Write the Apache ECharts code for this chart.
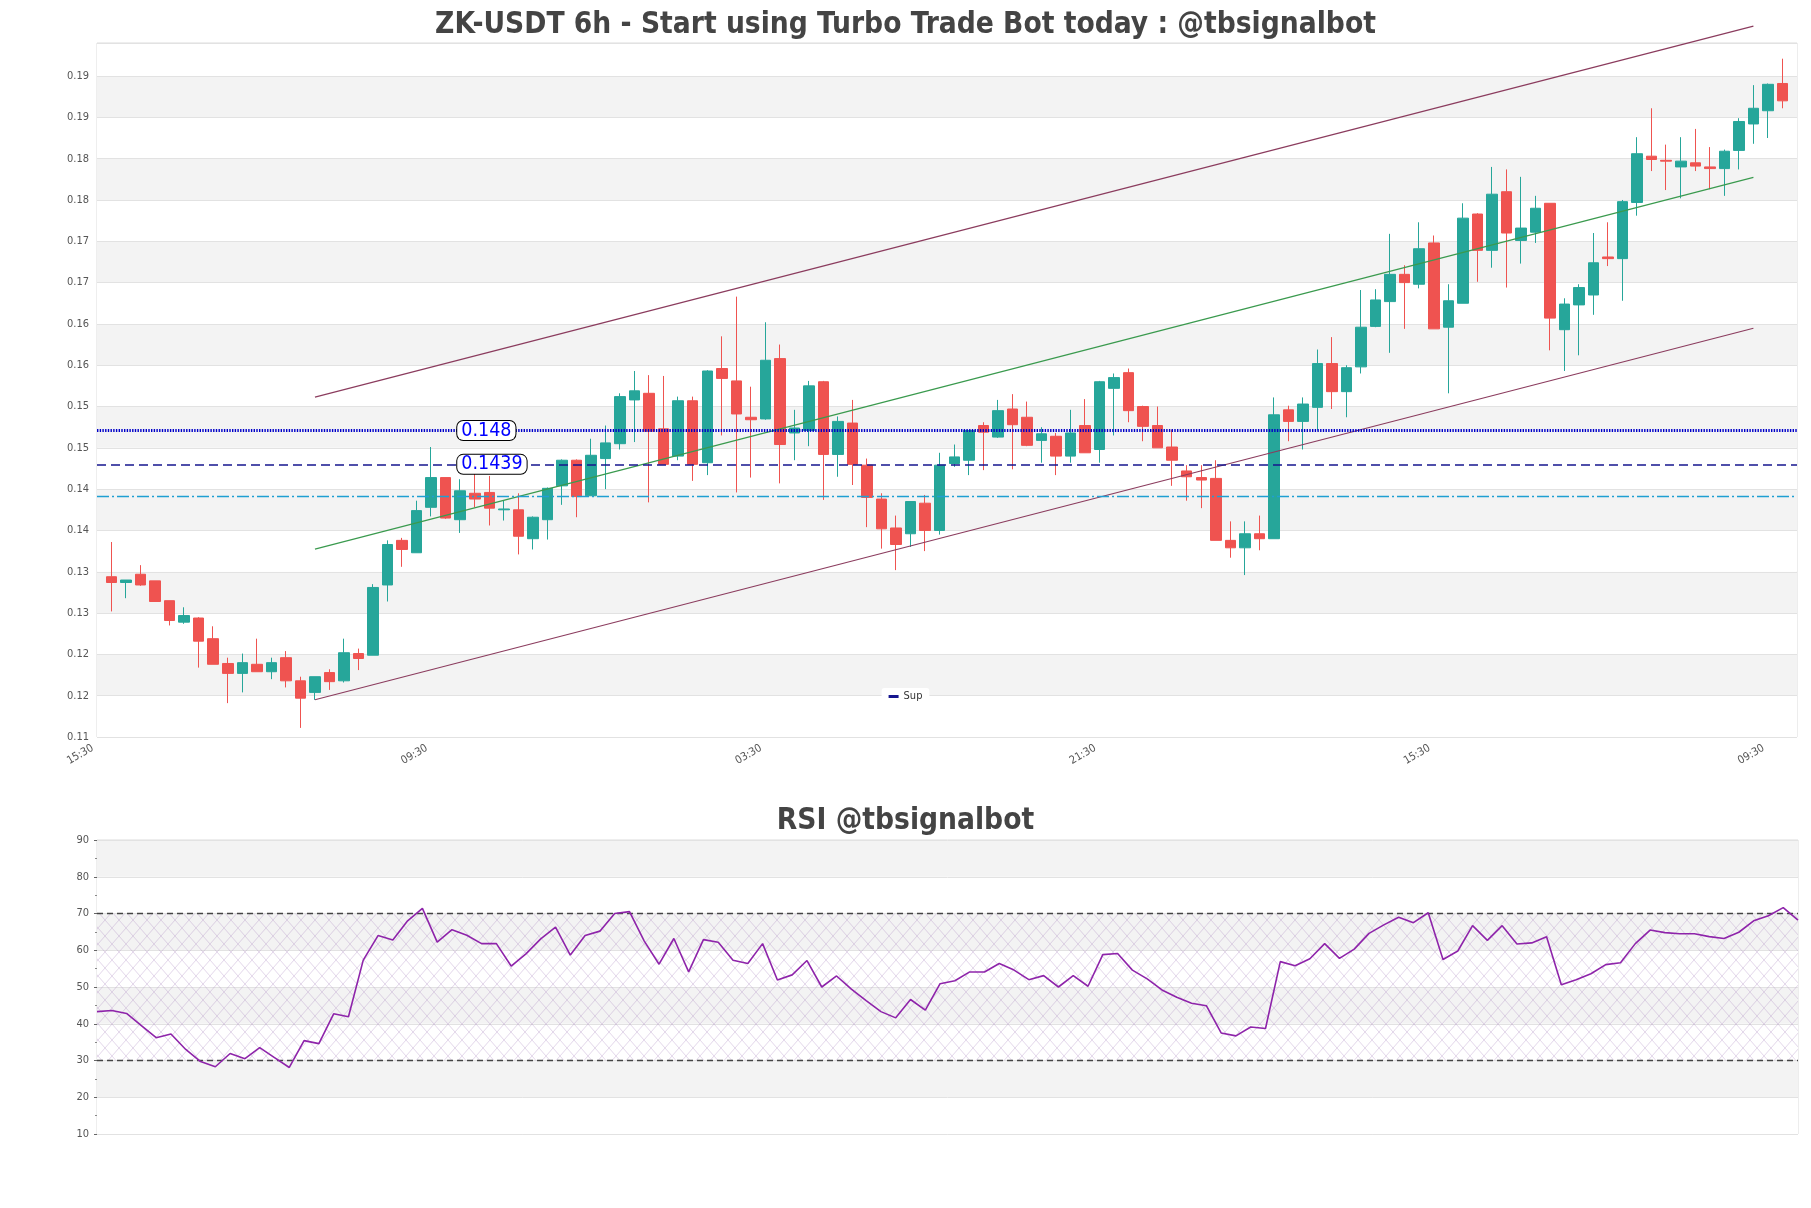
<!DOCTYPE html>
<html>
<head>
<meta charset="utf-8">
<script src="https://cdn.jsdelivr.net/npm/echarts@6/dist/echarts.min.js"></script>
<style>html,body{margin:0;padding:0;background:#fff}#c{width:1811px;height:1208px}</style>
</head>
<body>
<div id="c"></div>
<script>
// ---------- data ----------
const timeCycle = ['15:30', '21:30', '03:30', '09:30'];
const opens  = [0.1303,0.1296,0.1306,0.1298,0.1274,0.1248,0.1253,0.1228,0.1198,0.1186,0.1197,0.1188,0.1205,0.1177,0.1163,0.1187,0.1177,0.1210,0.1208,0.1293,
                0.1347,0.1332,0.1387,0.1423,0.1372,0.1404,0.1405,0.1384,0.1384,0.1349,0.1372,0.1413,0.1444,0.1401,0.1446,0.1464,0.1517,0.1525,0.1482,0.1449,
                0.1516,0.1441,0.1555,0.1540,0.1496,0.1494,0.1567,0.1477,0.1480,0.1539,0.1451,0.1489,0.1438,0.1397,0.1362,0.1355,0.1392,0.1359,0.1440,0.1444,
                0.1486,0.1472,0.1506,0.1496,0.1468,0.1473,0.1449,0.1486,0.1457,0.1531,0.1550,0.1509,0.1486,0.1460,0.1431,0.1423,0.1422,0.1347,0.1338,0.1355,
                0.1349,0.1505,0.1491,0.1508,0.1561,0.1527,0.1557,0.1606,0.1636,0.1669,0.1657,0.1707,0.1605,0.1634,0.1742,0.1698,0.1769,0.1710,0.1720,0.1755,
                0.1602,0.1632,0.1644,0.1690,0.1688,0.1756,0.1812,0.1807,0.1799,0.1804,0.1799,0.1797,0.1819,0.1851,0.1867,0.1900];
const closes = [0.1296,0.1299,0.1293,0.1273,0.1250,0.1256,0.1225,0.1197,0.1186,0.1199,0.1188,0.1199,0.1177,0.1156,0.1182,0.1176,0.1211,0.1204,0.1290,0.1342,
                0.1336,0.1383,0.1423,0.1374,0.1407,0.1397,0.1386,0.1385,0.1352,0.1375,0.1410,0.1444,0.1400,0.1450,0.1465,0.1521,0.1528,0.1479,0.1439,0.1516,
                0.1439,0.1552,0.1543,0.1500,0.1493,0.1565,0.1463,0.1483,0.1534,0.1451,0.1491,0.1439,0.1399,0.1361,0.1342,0.1394,0.1359,0.1438,0.1448,0.1480,
                0.1478,0.1504,0.1487,0.1462,0.1476,0.1449,0.1477,0.1453,0.1539,0.1544,0.1504,0.1485,0.1459,0.1444,0.1424,0.1420,0.1347,0.1338,0.1355,0.1349,
                0.1499,0.1491,0.1512,0.1561,0.1527,0.1556,0.1605,0.1638,0.1669,0.1659,0.1700,0.1603,0.1637,0.1737,0.1698,0.1766,0.1719,0.1725,0.1749,0.1616,
                0.1633,0.1653,0.1683,0.1688,0.1757,0.1815,0.1808,0.1806,0.1806,0.1800,0.1797,0.1818,0.1854,0.1870,0.1899,0.1879];
const lows   = [0.1261,0.1277,0.1292,0.1273,0.1244,0.1246,0.1193,0.1197,0.1150,0.1163,0.1188,0.1179,0.1169,0.1120,0.1154,0.1166,0.1175,0.1190,0.1208,0.1273,
                0.1315,0.1332,0.1376,0.1373,0.1356,0.1387,0.1365,0.1371,0.1330,0.1336,0.1348,0.1390,0.1375,0.1401,0.1409,0.1457,0.1466,0.1393,0.1439,0.1444,
                0.1419,0.1426,0.1474,0.1405,0.1423,0.1493,0.1416,0.1444,0.1461,0.1396,0.1424,0.1414,0.1363,0.1337,0.1311,0.1339,0.1334,0.1354,0.1436,0.1426,
                0.1432,0.1471,0.1433,0.1461,0.1441,0.1426,0.1441,0.1453,0.1441,0.1474,0.1490,0.1467,0.1459,0.1413,0.1395,0.1386,0.1347,0.1326,0.1305,0.1335,
                0.1349,0.1467,0.1457,0.1480,0.1506,0.1496,0.1549,0.1605,0.1574,0.1603,0.1652,0.1603,0.1525,0.1634,0.1660,0.1677,0.1653,0.1682,0.1707,0.1577,
                0.1552,0.1571,0.1620,0.1679,0.1637,0.1740,0.1794,0.1771,0.1761,0.1794,0.1772,0.1764,0.1796,0.1827,0.1834,0.1870];
const highs  = [0.1345,0.1299,0.1317,0.1298,0.1274,0.1266,0.1254,0.1243,0.1205,0.1210,0.1228,0.1205,0.1213,0.1182,0.1182,0.1191,0.1228,0.1216,0.1294,0.1347,
                0.1350,0.1395,0.1460,0.1423,0.1421,0.1428,0.1425,0.1395,0.1404,0.1376,0.1411,0.1445,0.1445,0.1470,0.1486,0.1525,0.1552,0.1547,0.1546,0.1521,
                0.1521,0.1553,0.1594,0.1642,0.1533,0.1611,0.1584,0.1505,0.1540,0.1540,0.1497,0.1517,0.1446,0.1404,0.1377,0.1394,0.1402,0.1453,0.1463,0.1480,
                0.1490,0.1517,0.1524,0.1515,0.1484,0.1477,0.1505,0.1518,0.1540,0.1549,0.1555,0.1510,0.1509,0.1481,0.1438,0.1438,0.1444,0.1370,0.1370,0.1377,
                0.1520,0.1510,0.1520,0.1578,0.1593,0.1559,0.1650,0.1651,0.1718,0.1680,0.1732,0.1716,0.1657,0.1755,0.1743,0.1799,0.1796,0.1787,0.1764,0.1755,
                0.1640,0.1657,0.1719,0.1732,0.1759,0.1835,0.1870,0.1826,0.1835,0.1845,0.1823,0.1820,0.1858,0.1898,0.1900,0.1930];
const rsiValues = [43.3,43.6,42.8,39.5,36.2,37.2,33.0,29.7,28.3,31.9,30.5,33.5,30.8,28.1,35.4,34.6,42.7,41.9,57.3,64.0,
                   62.8,68.0,71.4,62.2,65.6,64.1,61.8,61.8,55.7,59.0,63.1,66.3,58.7,64.0,65.2,70.0,70.5,62.5,56.2,63.2,
                   54.1,62.9,62.2,57.3,56.4,61.8,51.9,53.3,57.2,50.0,53.0,49.4,46.3,43.3,41.6,46.6,43.7,50.9,51.7,54.1,
                   54.1,56.4,54.6,52.0,53.1,50.0,53.1,50.2,58.8,59.1,54.6,52.2,49.2,47.2,45.6,44.9,37.5,36.7,39.1,38.7,
                   56.9,55.8,57.7,61.8,57.8,60.3,64.6,66.9,69.0,67.5,70.2,57.5,59.8,66.7,62.7,66.7,61.7,62.0,63.7,50.6,
                   52.0,53.6,56.1,56.6,61.8,65.5,64.8,64.5,64.5,63.7,63.2,64.9,68.0,69.4,71.6,68.2];
// channel lines: [candle slot, price]
const upperChannel = [[15, 0.15203], [114, 0.19694]];
const midChannel   = [[15, 0.13364], [114, 0.17864]];
const lowerChannel = [[15, 0.11541], [114, 0.16037]];
const resistanceLevel = 0.148;
const supportLevel = 0.1439;
const lowerLevel = 0.14;
const levelLabels = ['0.148', '0.1439'];
const rsiLevels = [70, 30];
const yMin = 0.1109, yMax = 0.1949, yStep = 0.005;

// ---------- build ----------
const nSlots = opens.length + 2;              // one empty slot on each side
const slotLabels = [];
for (let k = 0; k < nSlots; k++) slotLabels.push(timeCycle[k % 4]);
const rsiLabels = slotLabels.slice(1, nSlots - 1);
const candleData = opens.map((o, i) => [i + 1, o, closes[i], lows[i], highs[i]]);

const FONT = "'DejaVu Sans Condensed', 'DejaVu Sans', sans-serif";

const pc = document.createElement('canvas');
pc.width = 14; pc.height = 16;
const g = pc.getContext('2d');
g.strokeStyle = 'rgba(175,140,195,0.5)';
g.lineWidth = 0.7;
g.beginPath();
g.moveTo(0, 0); g.lineTo(14, 16);
g.moveTo(14, 0); g.lineTo(0, 16);
g.stroke();

const chart = echarts.init(document.getElementById('c'), null, {renderer: 'canvas'});
chart.setOption({
  animation: false,
  backgroundColor: '#ffffff',
  title: [
    {text: 'ZK-USDT 6h - Start using Turbo Trade Bot today : @tbsignalbot', left: 'center', top: 10, padding: 0,
     textStyle: {fontFamily: FONT, fontWeight: 'bold', fontSize: 29.6, color: '#444'}},
    {text: 'RSI @tbsignalbot', left: 'center', top: 806, padding: 0,
     textStyle: {fontFamily: FONT, fontWeight: 'bold', fontSize: 29.6, color: '#444'}}
  ],
  legend: {
    data: [{name: 'Sup', icon: 'rect'}],
    left: 'center', top: 688,
    itemWidth: 10, itemHeight: 3, itemGap: 6,
    backgroundColor: '#ffffff', padding: [3, 7], borderRadius: 3,
    textStyle: {fontFamily: FONT, fontSize: 11, color: '#333'}
  },
  grid: [
    {left: 97, top: 43, width: 1700, height: 694, show: true, borderColor: '#dcdcdc', borderWidth: 1, containLabel: false},
    {left: 97, top: 840, width: 1701, height: 294, show: true, borderColor: '#dcdcdc', borderWidth: 1, containLabel: false}
  ],
  xAxis: [
    {type: 'category', gridIndex: 0, data: slotLabels, boundaryGap: false,
     axisLine: {show: false}, axisTick: {show: false},
     axisLabel: {interval: 22, rotate: 30, fontFamily: FONT, fontSize: 11, color: '#555', margin: 8, padding: [0, 5, 0, 0]},
     splitLine: {show: false}},
    {type: 'category', gridIndex: 1, data: rsiLabels, boundaryGap: false, show: false}
  ],
  yAxis: [
    {type: 'value', gridIndex: 0, min: yMin, max: yMax, interval: yStep, scale: true,
     axisLine: {show: false}, axisTick: {show: false},
     axisLabel: {showMaxLabel: false, fontFamily: FONT, fontSize: 11, color: '#555', formatter: v => v.toFixed(2)},
     splitLine: {show: true, lineStyle: {color: '#e2e2e2', width: 1}},
     splitArea: {show: true, areaStyle: {color: ['#ffffff', '#f3f3f3']}}},
    {type: 'value', gridIndex: 1, min: 10, max: 90, interval: 10,
     axisLine: {show: false},
     axisTick: {show: true, length: 3, lineStyle: {color: '#666'}},
     minorTick: {show: true, splitNumber: 2, length: 2, lineStyle: {color: '#888'}},
     axisLabel: {fontFamily: FONT, fontSize: 11, color: '#555'},
     splitLine: {show: true, lineStyle: {color: '#e2e2e2', width: 1}},
     splitArea: {show: true, areaStyle: {color: ['#ffffff', '#f3f3f3']}}}
  ],
  series: [
    {
      name: 'Price', type: 'candlestick', xAxisIndex: 0, yAxisIndex: 0,
      data: candleData, encode: {x: 0, y: [1, 2, 3, 4]},
      barWidth: 11,
      itemStyle: {color: '#26a69a', color0: '#ef5350', borderColor: '#26a69a', borderColor0: '#ef5350', borderWidth: 1},
      z: 3
    },
    {name: 'Upper', type: 'line', xAxisIndex: 0, yAxisIndex: 0, data: upperChannel, showSymbol: false, symbol: 'none', clip: false,
     lineStyle: {color: '#8b3c5e', width: 1.2}, z: 4},
    {name: 'Mid', type: 'line', xAxisIndex: 0, yAxisIndex: 0, data: midChannel, showSymbol: false, symbol: 'none', clip: false,
     lineStyle: {color: '#3a9a4e', width: 1.2}, z: 4,
     markLine: {
        silent: true, symbol: ['none', 'none'], label: {show: false}, precision: 5,
        data: [
          {yAxis: resistanceLevel, lineStyle: {color: '#0000c8', width: 3, type: [1.4, 1.3]}},
          {yAxis: supportLevel, lineStyle: {color: '#16168f', width: 1.6, type: [9, 5]}},
          {yAxis: lowerLevel, lineStyle: {color: '#1f9fd2', width: 1.3, type: [12, 3, 2, 3]}}
        ]
     },
     markPoint: {
        silent: true, symbol: 'rect', symbolSize: 0,
        label: {show: true, position: 'right', distance: 0, offset: [-3, 0], formatter: '{b}',
                fontFamily: FONT, fontSize: 19.5, lineHeight: 19, color: '#0000ff',
                backgroundColor: '#ffffff', borderColor: '#000', borderWidth: 1, borderRadius: 6, padding: [0, 4]},
        data: [
          {name: levelLabels[0], coord: [25, resistanceLevel]},
          {name: levelLabels[1], coord: [25, supportLevel]}
        ]
     }},
    {name: 'Lower', type: 'line', xAxisIndex: 0, yAxisIndex: 0, data: lowerChannel, showSymbol: false, symbol: 'none', clip: false,
     lineStyle: {color: '#8b3c5e', width: 1.2}, z: 4},
    {name: 'Sup', type: 'line', xAxisIndex: 0, yAxisIndex: 0, data: [], color: '#16168f', lineStyle: {color: '#16168f'}},
    {
      name: 'RSI', type: 'line', xAxisIndex: 1, yAxisIndex: 1, data: rsiValues,
      showSymbol: false, symbol: 'none',
      lineStyle: {color: '#8e24aa', width: 1.6}, z: 5,
      markLine: {
        silent: true, symbol: ['none', 'none'], label: {show: false},
        lineStyle: {color: '#444', width: 1.3, type: [6, 4]},
        data: rsiLevels.map(v => ({yAxis: v}))
      },
      markArea: {
        silent: true,
        itemStyle: {color: {image: pc, repeat: 'repeat'}},
        data: [[{yAxis: rsiLevels[1]}, {yAxis: rsiLevels[0]}]]
      }
    }
  ]
});
</script>
</body>
</html>
